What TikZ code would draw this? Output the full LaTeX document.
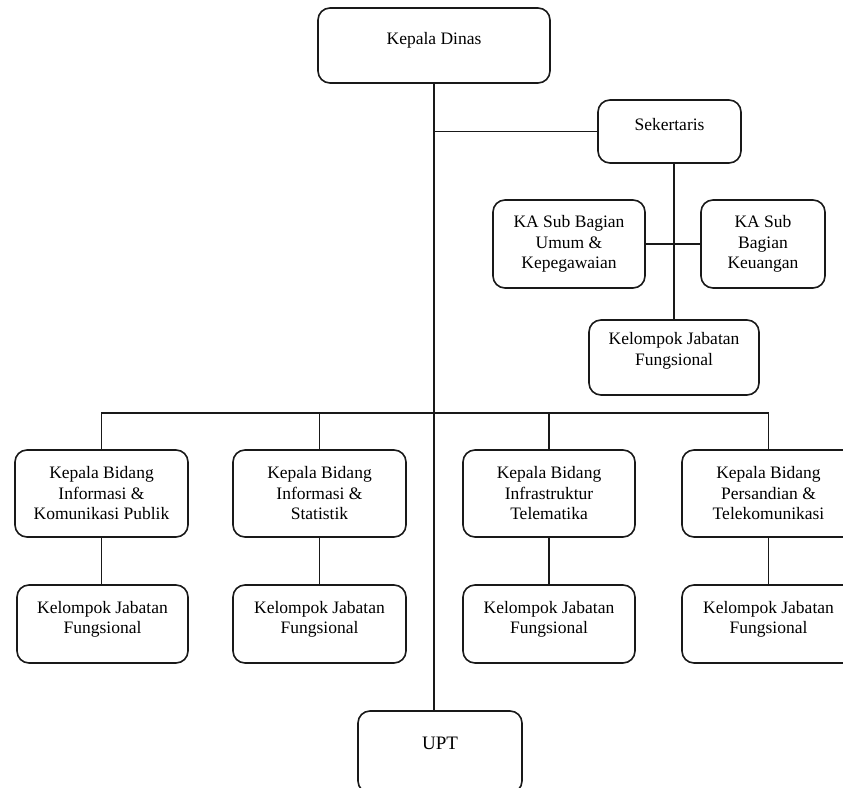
\documentclass[tikz,border=0pt]{standalone}
\usepackage{fontspec}
\setmainfont{Liberation Serif}
\begin{document}
\begin{tikzpicture}[x=1pt,y=-1pt,
  box/.style={draw=black!90,line width=1.6pt,rounded corners=12pt,minimum width=#1,inner sep=0pt},
  txt/.style={align=center,inner sep=0pt,font=\fontsize{17.5}{20.5}\selectfont},
  ln/.style={draw=black!90,line width=1.8pt}]
\useasboundingbox (0,0) rectangle (843,787);
\clip (0,0) rectangle (843,787);
% top
\node[box=232pt,minimum height=75pt] (kd) at (434,45.5) {};
\node[txt] (kdt) at (434,40) {Kepala Dinas};
\node[box=143pt,minimum height=63pt] (sek) at (669.5,131.5) {};
\node[txt] (sekt) at (669.5,125) {Sekertaris};
\node[box=152pt,minimum height=88pt,txt] (umum) at (569,244) {KA Sub Bagian\\Umum \&\\Kepegawaian};
\node[box=124pt,minimum height=88pt,txt] (keu) at (763,244) {KA Sub\\Bagian\\Keuangan};
\node[box=170pt,minimum height=75pt] (ksek) at (674,357.5) {};
\node[txt] (ksekt) at (674,351) {Kelompok Jabatan\\Fungsional};
% bidang
\node[box=173pt,minimum height=87pt,txt] (b1) at (101.5,493.5) {Kepala Bidang\\Informasi \&\\Komunikasi Publik};
\node[box=173pt,minimum height=87pt,txt] (b2) at (319.5,493.5) {Kepala Bidang\\Informasi \&\\Statistik};
\node[box=172pt,minimum height=87pt,txt] (b3) at (549,493.5) {Kepala Bidang\\Infrastruktur\\Telematika};
\node[box=173pt,minimum height=87pt,txt] (b4) at (768.5,493.5) {Kepala Bidang\\Persandian \&\\Telekomunikasi};
% kelompok rows
\node[box=171pt,minimum height=78pt] (k1) at (102.5,624) {};
\node[box=173pt,minimum height=78pt] (k2) at (319.5,624) {};
\node[box=172pt,minimum height=78pt] (k3) at (549,624) {};
\node[box=173pt,minimum height=78pt] (k4) at (768.5,624) {};
\node[txt] (k1t) at (102.5,619.5) {Kelompok Jabatan\\Fungsional};
\node[txt] (k2t) at (319.5,619.5) {Kelompok Jabatan\\Fungsional};
\node[txt] (k3t) at (549,619.5) {Kelompok Jabatan\\Fungsional};
\node[txt] (k4t) at (768.5,619.5) {Kelompok Jabatan\\Fungsional};
% upt
\node[box=164pt,minimum height=82pt] (upt) at (440,752) {};
\node[txt,font=\fontsize{19}{22}\selectfont] (uptt) at (440,743) {UPT};
\coordinate (bus) at (434,413);
% connectors
\draw[ln] (kd.south) -- (kd.south |- upt.north);
\draw[ln] (kd.south |- sek.west) -- (sek.west);
\draw[ln] (ksek.north |- sek.south) -- (ksek.north);
\draw[ln] (umum.east) -- (keu.west);
\draw[ln] (b1.north) |- (bus);
\draw[ln] (b2.north) |- (bus);
\draw[ln] (b3.north) |- (bus);
\draw[ln] (b4.north) |- (bus);
\draw[ln] (b1.south) -- (b1.south |- k1.north);
\draw[ln] (b2.south) -- (k2.north);
\draw[ln] (b3.south) -- (k3.north);
\draw[ln] (b4.south) -- (k4.north);
\end{tikzpicture}
\end{document}
